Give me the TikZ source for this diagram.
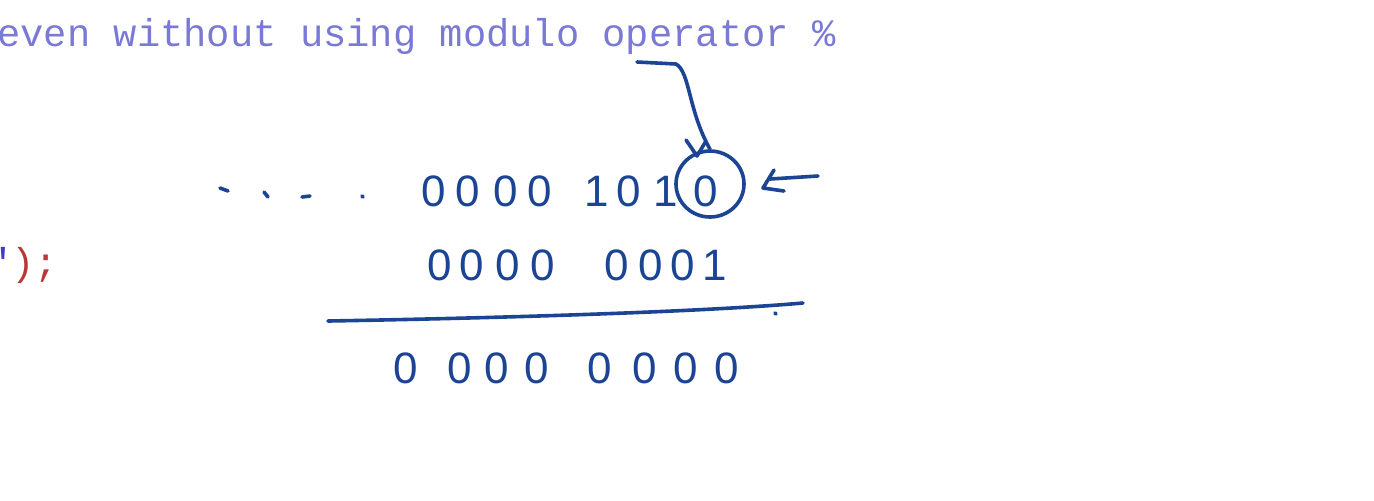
\documentclass[tikz,border=0pt]{standalone}
\usepackage{fontspec}
\usetikzlibrary{shapes.geometric}
\newfontfamily\codefont{Liberation Mono}
\newfontfamily\handfont{Liberation Sans}
\definecolor{ink}{RGB}{28,68,148}
\definecolor{lav}{RGB}{122,122,214}
\definecolor{codeblue}{RGB}{60,60,200}
\definecolor{codered}{RGB}{185,55,55}
\tikzset{
  digit/.style={inner sep=0pt, text=ink, font=\handfont\fontsize{22}{22}\selectfont},
  pen/.style={draw=ink, line width=1.8pt, line cap=round, line join=round},
  code/.style={inner sep=0pt, anchor=base west, font=\codefont\fontsize{19.4}{20}\selectfont}
}
\begin{document}
\begin{tikzpicture}[x=0.5pt,y=-0.5pt]
\useasboundingbox (0,0) rectangle (1374,500);
\fill[white] (0,0) rectangle (1374,500);
% code text
\node[code, text=lav] (title) at (-3,46) {even without using modulo operator \%};
\node[code] (tail) at (-12.6,275) {\textcolor{codeblue}{"}\textcolor{codered}{);}};
% row 1
\foreach \x/\d [count=\i] in {434/0,468/0,506/0,540/0,597/1,629/0,666/1,706/0}
  \node[digit] (a\i) at (\x,191) {\d};
% row 2
\foreach \x/\d [count=\i] in {440/0,472/0,508/0,543/0,617/0,651/0,683/0,715/1}
  \node[digit] (b\i) at (\x,265) {\d};
% row 3
\foreach \x/\d [count=\i] in {406/0,460/0,497/0,537/0,600/0,645/0,686/0,727/0}
  \node[digit] (c\i) at (\x,368) {\d};
% leading dots
\draw[pen] (220,188) -- (228,191);
\draw[pen] (264,192) -- (268,197);
\draw[pen] (302,197) -- (310,196);
\draw[pen] (362,196) -- (363,197);
% circle around last bit
\node[pen, ellipse, minimum width=34pt, minimum height=33pt, inner sep=0pt] (ring) at (710,184) {};
% sum line
\coordinate (l1) at (328,321);
\coordinate (l2) at (803,303);
\draw[pen] (l1) .. controls (500,318) and (700,312) .. (l2);
\draw[pen] (775,313) -- (776,314);
% right arrow
\coordinate (r1) at (818,176);
\draw[pen] (r1) -- (770,179);
\draw[pen] (774,170) -- (763,188) -- (784,191);
% top arrow
\coordinate (t1) at (637,62);
\draw[pen] (t1) -- (676,64) .. controls (690,72) and (688,110) .. (ring.north);
\draw[pen] (686,140) -- (697,156) -- (706,141);
\end{tikzpicture}
\end{document}
